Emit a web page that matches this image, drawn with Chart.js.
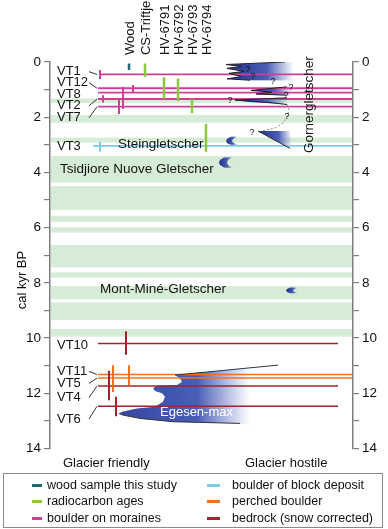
<!DOCTYPE html>
<html>
<head>
<meta charset="utf-8">
<script src="https://cdn.jsdelivr.net/npm/chart.js@4.4.1/dist/chart.umd.min.js"></script>
<style>
  body { margin: 0; background: #fff; }
  #wrap { position: relative; width: 388px; height: 529px; }
  .legend { position: absolute; left: 3px; top: 473px; width: 380px; height: 55px; box-sizing: border-box;
            border: 1px solid #8a8a8a; font: 12.5px "Liberation Sans", Arial, sans-serif; color: #111; }
  .item { position: absolute; height: 16px; line-height: 16px; white-space: nowrap; }
  .item i { position: absolute; left: 0; top: 7px; height: 3px; }
  .item span { position: absolute; top: 0; }
</style>
</head>
<body>
<div id="wrap">
  <canvas id="myChart" width="388" height="529"></canvas>
  <div class="legend" id="legend"></div>
</div>
<script>
const FONT = '"Liberation Sans", Arial, Helvetica, sans-serif';

// exposure ages, cal kyr BP
const sampleNames = ['VT1', 'VT12', 'VT8', 'VT2', 'VT7', 'VT3', 'VT10', 'VT11', 'VT5', 'VT4', 'VT6'];
const sampleType = ['moraine', 'moraine', 'moraine', 'moraine', 'moraine', 'block', 'bedrock', 'perched', 'perched', 'bedrock', 'bedrock'];
const sampleAge = [0.45, 0.95, 1.11, 1.34, 1.62, 3.04, 10.2, 11.32, 11.45, 11.74, 12.47];
const sampleLow = [0.29, 0.83, 0.9, 1.2, 1.38, 2.89, 9.75, 10.98, 10.98, 11.18, 12.13];
const sampleHigh = [0.62, 1.11, 1.7, 1.47, 1.88, 3.25, 10.6, 11.7, 11.95, 12.25, 12.83];

// radiocarbon ages
const c14Names = ['Wood', 'CS-Triftje', 'HV-6791', 'HV-6792', 'HV-6793', 'HV-6794'];
const c14Low = [0.05, 0.05, 0.55, 0.6, 1.35, 2.25];
const c14High = [0.29, 0.53, 1.33, 1.41, 1.86, 3.25];

// green periods
const bandStart = [1.32, 1.92, 2.74, 3.4, 4.49, 5.57, 5.99, 6.63, 7.62, 8.12, 8.71, 9.67];
const bandEnd = [1.49, 2.2, 2.92, 4.37, 5.36, 5.79, 6.18, 7.44, 7.81, 8.59, 9.35, 9.95];

// glacier outlines: [position, kyr]
const gorner1 = [[176, 0.09], [242, 0.0], [244, 0.67], [200, 0.66], [177, 0.61], [191, 0.53], [179, 0.41], [194, 0.34], [177, 0.23], [191, 0.16]];
const gorner2 = [[201, 1.03], [240, 0.9], [242, 1.22], [206, 1.16], [222, 1.09]];
const gorner3 = [[185, 1.38], [237, 1.28], [238, 1.54], [200, 1.45]];
const gorner4 = [[208, 2.5], [240, 2.5], [242, 3.15]];
const stein = [[188, 2.70], [181, 2.71], [177.5, 2.77], [176, 2.86], [177.5, 2.95], [181, 3.0], [188, 3.01], [183, 2.92], [182, 2.86], [183, 2.79]];
const tsidjiore = [[183, 3.44], [174, 3.46], [170, 3.55], [169, 3.64], [170, 3.73], [174, 3.82], [183, 3.84], [178, 3.73], [177, 3.64], [178, 3.55]];
const montMine = [[248, 8.17], [240, 8.17], [237, 8.22], [236, 8.28], [237, 8.33], [240, 8.38], [248, 8.38], [244, 8.31], [243, 8.28], [244, 8.24]];
const egesen = [[125, 11.34], [200, 11.08], [200, 13.12], [190, 13.09], [123, 13.03], [90, 12.91], [73, 12.79], [69, 12.73], [72, 12.67], [87, 12.55], [105, 12.49], [113, 12.31], [115, 12.13], [112, 12.0], [105, 11.92], [103, 11.82], [107, 11.73], [127, 11.70], [132, 11.58], [130, 11.46]];

const gornerEdges = [
  [[235, 0], [176, 0.09], [191, 0.16], [177, 0.23], [194, 0.34], [179, 0.41], [191, 0.53], [177, 0.61], [200, 0.66]],
  [[237, 0.9], [201, 1.03], [222, 1.09], [206, 1.16], [236, 1.2]],
  [[237, 1.3], [185, 1.38], [220, 1.47], [237, 1.54]],
  [[208, 2.5], [240, 3.13]]
];
const gornerDashed = [[237, 1.54], [239, 1.74], [237, 1.96], [233, 2.21], [225, 2.39], [212, 2.5]];
const egesenEdges = [
  [[125, 11.34], [228, 10.98]],
  [[69, 12.73], [73, 12.79], [90, 12.91], [123, 13.03], [190, 13.09]]
];
const questionMarks = [[198, 0.29], [203, 0.51], [223, 0.71], [241, 0.94], [236, 1.23], [180, 1.38], [237, 1.99], [202, 2.54]];

// placement along the hidden x axis (0 = left axis, 303 = right axis)
const labelAge = [0.35, 0.75, 1.17, 1.59, 2.02, 3.04, 10.25, 11.21, 11.64, 12.15, 12.93];
const barPos = [50, 83, 73, 53, 69, 50, 76, 79, 63, 59, 66];
const lineFrom = [50, 48, 48, 48, 48, 43, 48, 48, 48, 48, 48];
const lineTo = [302, 302, 302, 302, 302, 302, 288, 302, 302, 288, 288];
const c14Pos = [79, 95, 114, 128, 142, 156];

const colors = {
  wood: '#1d6b6e', c14: '#8dc63f', moraine: '#cf3f95',
  block: '#7ccbe6', perched: '#f47021', bedrock: '#a2232a'
};

const datasets = [];

function addLine(points, color, width, order, dash) {
  datasets.push({
    data: points.map(p => ({ x: p[0], y: p[1] })),
    borderColor: color,
    borderWidth: width,
    borderDash: dash || [],
    pointRadius: 0,
    tension: 0,
    fill: false,
    order: order
  });
}

function addGlacier(points, dark) {
  const xs = points.map(p => p[0]);
  const x0 = Math.min(...xs);
  const x1 = Math.max(...xs);
  datasets.push({
    data: points.map(p => ({ x: p[0], y: p[1] })),
    borderWidth: 0,
    borderColor: 'rgba(0,0,0,0)',
    pointRadius: 0,
    tension: 0,
    fill: 'shape',
    order: 10,
    backgroundColor: (context) => {
      const chart = context.chart;
      const sx = chart.scales.x;
      if (!sx) return '#3b4ea6';
      const p0 = sx.getPixelForValue(x0);
      const p1 = sx.getPixelForValue(x1);
      if (!isFinite(p0) || !isFinite(p1) || p0 === p1) return '#3b4ea6';
      const g = chart.ctx.createLinearGradient(p0, 0, p1, 0);
      g.addColorStop(0, dark);
      g.addColorStop(0.6, '#4b5eb6');
      g.addColorStop(1, 'rgba(90,110,195,0)');
      return g;
    }
  });
}

[gorner1, gorner2, gorner3, gorner4, stein, tsidjiore, montMine].forEach(p => addGlacier(p, '#22318a'));
addGlacier(egesen, '#3446a2');
gornerEdges.forEach(e => addLine(e, '#222', 1, 4));
egesenEdges.forEach(e => addLine(e, '#333', 1, 4));
addLine(gornerDashed, '#888', 1, 4, [2, 2]);

sampleAge.forEach((age, i) => {
  const col = colors[sampleType[i]];
  addLine([[lineFrom[i], age], [lineTo[i], age]], col, sampleType[i] === 'moraine' || sampleType[i] === 'block' ? 1.8 : 1.5, 5);
  addLine([[barPos[i], sampleLow[i]], [barPos[i], sampleHigh[i]]], col, 2, 1);
  if (Math.abs(labelAge[i] - age) > 0.08) {
    addLine([[39, labelAge[i]], [47, age]], '#333', 1, 1);
  }
});

c14Low.forEach((lo, i) => {
  addLine([[c14Pos[i], lo], [c14Pos[i], c14High[i]]], i === 0 ? colors.wood : colors.c14, 2.5, 0);
});

const notesPlugin = {
  id: 'notes',
  beforeDatasetsDraw(chart) {
    const { ctx, chartArea, scales: { x, y } } = chart;
    ctx.save();
    ctx.fillStyle = '#d7ecd6';
    bandStart.forEach((b, i) => {
      const y0 = y.getPixelForValue(b);
      const y1 = y.getPixelForValue(bandEnd[i]);
      ctx.fillRect(chartArea.left + 1, y0, x.getPixelForValue(302) - chartArea.left - 1, y1 - y0);
    });
    ctx.restore();
  },
  afterDatasetsDraw(chart) {
    const { ctx, scales: { x, y } } = chart;
    const X = v => x.getPixelForValue(v);
    const Y = v => y.getPixelForValue(v);
    ctx.save();
    ctx.fillStyle = '#111';
    ctx.textBaseline = 'middle';
    ctx.textAlign = 'left';
    ctx.font = '13px ' + FONT;

    sampleNames.forEach((n, i) => ctx.fillText(n, X(7), Y(labelAge[i])));

    c14Names.forEach((n, i) => {
      ctx.save();
      ctx.translate(X(c14Pos[i]) + 1, Y(-0.25));
      ctx.rotate(-Math.PI / 2);
      ctx.fillText(n, 0, 0);
      ctx.restore();
    });

    ctx.font = '13.5px ' + FONT;
    ctx.fillText('Steingletscher', X(68), Y(2.97));
    ctx.fillText('Tsidjiore Nuove Gletscher', X(10), Y(3.87));
    ctx.fillText('Mont-Miné-Gletscher', X(50), Y(8.22));

    ctx.save();
    ctx.translate(X(259), Y(3.3));
    ctx.rotate(-Math.PI / 2);
    ctx.fillText('Gornergletscher', 0, 0);
    ctx.restore();

    ctx.fillStyle = '#fff';
    ctx.font = '13px ' + FONT;
    ctx.fillText('Egesen-max', X(110), Y(12.69));

    ctx.fillStyle = '#111';
    ctx.fillText('Glacier friendly', X(13), Y(14.53));
    ctx.fillText('Glacier hostile', X(195), Y(14.53));

    ctx.save();
    ctx.translate(22.5, Y(7.9));
    ctx.rotate(-Math.PI / 2);
    ctx.textAlign = 'center';
    ctx.fillText('cal kyr BP', 0, 0);
    ctx.restore();

    ctx.font = '9px ' + FONT;
    ctx.textAlign = 'center';
    questionMarks.forEach(q => ctx.fillText('?', X(q[0]), Y(q[1])));
    ctx.restore();
  }
};

function yAxis(position, width) {
  return {
    type: 'linear',
    position: position,
    reverse: true,
    min: 0,
    max: 14,
    ticks: {
      stepSize: 1,
      autoSkip: false,
      color: '#111',
      padding: 3,
      font: { family: FONT, size: 13.5 },
      callback: v => (v % 2 === 0 ? v : '')
    },
    grid: { drawOnChartArea: false, drawTicks: true, tickLength: 6, color: '#7d7d7d', lineWidth: 1.2 },
    border: { display: true, color: '#7d7d7d', width: 1.5 },
    afterFit: s => { s.width = width; }
  };
}

new Chart(document.getElementById('myChart'), {
  type: 'line',
  data: { datasets: datasets },
  options: {
    responsive: false,
    animation: false,
    devicePixelRatio: 1,
    layout: { padding: { top: 62, bottom: 80.5, left: 0, right: 0 } },
    plugins: { legend: { display: false }, tooltip: { enabled: false } },
    scales: {
      x: { type: 'linear', min: 0, max: 303, display: false },
      y: yAxis('left', 50),
      y2: yAxis('right', 35)
    }
  },
  plugins: [notesPlugin]
});

// legend box
const legendItems = [
  ['wood sample this study', colors.wood], ['radiocarbon ages', colors.c14], ['boulder on moraines', colors.moraine],
  ['boulder of block deposit', colors.block], ['perched boulder', colors.perched], ['bedrock (snow corrected)', colors.bedrock]
];
const legendEl = document.getElementById('legend');
legendItems.forEach((it, i) => {
  const col = Math.floor(i / 3);
  const row = i % 3;
  const d = document.createElement('div');
  d.className = 'item';
  d.style.left = (col === 0 ? 28 : 203) + 'px';
  d.style.top = (3 + row * 16.3) + 'px';
  const sw = col === 0 ? 10 : 13;
  d.innerHTML = '<i style="width:' + sw + 'px;background:' + it[1] + '"></i><span style="left:' + (col === 0 ? 15 : 25) + 'px">' + it[0] + '</span>';
  legendEl.appendChild(d);
});
</script>
</body>
</html>
